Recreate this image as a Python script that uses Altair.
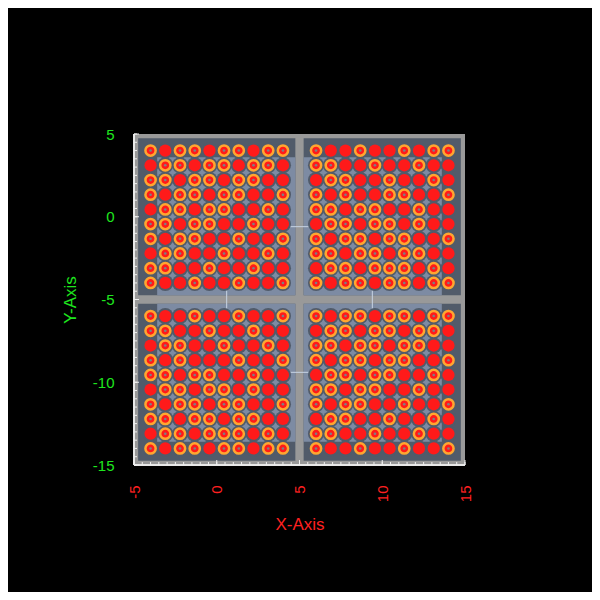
import pandas as pd
import altair as alt

# grid positions inside one panel (same for every panel, shifted by panel centre)
grid_x = [-4.0, -3.11, -2.22, -1.33, -0.44, 0.44, 1.33, 2.22, 3.11, 4.0]
grid_y = [4.0, 3.11, 2.22, 1.33, 0.44, -0.44, -1.33, -2.22, -3.11, -4.0]

# marker kind per panel, rows top to bottom: R = ringed circle, F = filled circle
kinds_tl = [
    "RFRRFRRFRR", "FRRFRRFRRF", "RRFRRFRRFF", "RFRRFRRFFR", "FRRFRRFFRF",
    "RRFRRFFRFF", "RFRRFFRFFR", "FRRFFRFFRF", "RRFFRFFRFF", "RFFRFFRFFR",
]
kinds_tr = [
    "RFFRFFRFRR", "RRFFRFFRFF", "FRRFFRFFRF", "RFRFFRRFFR", "RRFRRFFRFF",
    "FRRFRRFRFF", "RFRRFRRFFR", "RRFRRFRRFF", "FRRFRRRFRF", "RFRRFRRFRR",
]
kinds_bl = [
    "RFFRFFRFFR", "RRFFRFFRFF", "FRRFFRFFRF", "RFRFFFRFFR", "RRFRRFFRFF",
    "FRRFRRFRFF", "RFRRFRRFFR", "RRFRRFRRFF", "FRRFRRRFRF", "RFRRFRRFRR",
]
kinds_br = [
    "RFRRFRRFRR", "FRRFRRFRRF", "RRFRRFRRFF", "RFRRFRRFFR", "FRRFRRFFRF",
    "RRFRRFFRFF", "RFRRFFRFFR", "FRRFFRFFRF", "RRFFRFFRFF", "RFFRFFRFFR",
]

panel_cx = [0, 10, 0, 10]
panel_cy = [0, 0, -10, -10]
panel_kinds = [kinds_tl, kinds_tr, kinds_bl, kinds_br]

# dark panels and the lighter inner regions
panel_x1 = [-4.75, 5.25, -4.75, 5.25]
panel_x2 = [4.75, 14.75, 4.75, 14.75]
panel_y1 = [-4.75, -4.75, -14.75, -14.75]
panel_y2 = [4.75, 4.75, -5.25, -5.25]
light_x1 = [-3.6, 5.25, -3.6, 5.25]
light_x2 = [4.75, 13.6, 4.75, 13.6]
light_y1 = [-4.75, -4.75, -13.6, -13.6]
light_y2 = [3.6, 3.6, -5.25, -5.25]

# faint guide lines showing through the gaps
vline_x = [0.6, 9.4]
hline_y = [-0.6, -9.4]
guide_lo = -13.6
guide_hi_y = 3.6
guide_hi_x = 13.6

x_ticks = [-5, 0, 5, 10, 15]
y_ticks = [5, 0, -5, -10, -15]
minor_steps = [i * 0.5 for i in range(41)]

rows = []
for cx, cy, kinds in zip(panel_cx, panel_cy, panel_kinds):
    for r, line in enumerate(kinds):
        for c, k in enumerate(line):
            rows.append({"x": cx + grid_x[c], "y": cy + grid_y[r], "kind": k})
pts = pd.DataFrame(rows)

panels = pd.DataFrame({"x1": panel_x1, "x2": panel_x2, "y1": panel_y1, "y2": panel_y2})
lights = pd.DataFrame({"x1": light_x1, "x2": light_x2, "y1": light_y1, "y2": light_y2})

xs = alt.Scale(domain=[-5, 15], nice=False, zero=False)
ys = alt.Scale(domain=[-15, 5], nice=False, zero=False)

GREEN = "#1ee61e"
RED = "#ff2020"
DARK = "#515b6a"
LIGHT = "#7d8ba3"
FONT = "Liberation Sans"

base = alt.Chart(pts)

panel_layer = alt.Chart(panels).mark_rect(color=DARK).encode(
    x=alt.X("x1:Q", scale=xs,
            axis=alt.Axis(values=x_ticks, title="X-Axis", labelAngle=270,
                          labelExpr="'' + datum.value",
                          labelColor=RED, titleColor=RED, labelFontSize=15,
                          titleFontSize=17, labelPadding=20, titlePadding=15,
                          ticks=False, domain=False, grid=False,
                          labelFont=FONT, titleFont=FONT,
                          titleFontWeight="normal")),
    x2="x2:Q",
    y=alt.Y("y1:Q", scale=ys,
            axis=alt.Axis(values=y_ticks, title="Y-Axis", labelColor=GREEN,
                          labelExpr="'' + datum.value",
                          titleColor=GREEN, labelFontSize=15, titleFontSize=17,
                          labelPadding=20, titlePadding=13, ticks=False,
                          domain=False, grid=False, labelFont=FONT,
                          titleFont=FONT, titleFontWeight="normal")),
    y2="y2:Q",
)

light_layer = alt.Chart(lights).mark_rect(color=LIGHT).encode(
    x=alt.X("x1:Q", scale=xs), x2="x2:Q",
    y=alt.Y("y1:Q", scale=ys), y2="y2:Q",
)

vlines = alt.Chart(pd.DataFrame({"v": vline_x, "a": guide_lo, "b": guide_hi_y})).mark_rule(
    color="#c8d4e4", strokeWidth=1
).encode(x=alt.X("v:Q", scale=xs), y=alt.Y("a:Q", scale=ys), y2="b:Q")
hlines = alt.Chart(pd.DataFrame({"v": hline_y, "a": -3.6, "b": guide_hi_x})).mark_rule(
    color="#c8d4e4", strokeWidth=1
).encode(y=alt.Y("v:Q", scale=ys), x=alt.X("a:Q", scale=xs), x2="b:Q")

halo = base.mark_circle(size=260, color=DARK, opacity=1).encode(
    x=alt.X("x:Q", scale=xs), y=alt.Y("y:Q", scale=ys)
)
filled = base.transform_filter("datum.kind == 'F'").mark_circle(
    size=150, color="#ff1a1a", opacity=1
).encode(x=alt.X("x:Q", scale=xs), y=alt.Y("y:Q", scale=ys))
ring = base.transform_filter("datum.kind == 'R'").mark_point(
    shape="circle", size=105, filled=True, fill="#ff1a1a", stroke="#ffa630",
    strokeWidth=2.5, opacity=1
).encode(x=alt.X("x:Q", scale=xs), y=alt.Y("y:Q", scale=ys))
dot = base.transform_filter("datum.kind == 'R'").mark_circle(
    size=7, color="#808080", opacity=1
).encode(x=alt.X("x:Q", scale=xs), y=alt.Y("y:Q", scale=ys))

# axis lines and inward ticks
minor_x = pd.DataFrame({"v": [-5 + s for s in minor_steps]})
minor_y = pd.DataFrame({"v": [-15 + s for s in minor_steps]})
major_x = pd.DataFrame({"v": x_ticks})
major_y = pd.DataFrame({"v": y_ticks})

x_axis_line = alt.Chart(major_x).mark_rule(color="#e8e8e8", strokeWidth=1.5).encode(
    x=alt.value(0), x2=alt.value(331), y=alt.value(331)
)
y_axis_line = alt.Chart(major_y).mark_rule(color="#e8e8e8", strokeWidth=1.5).encode(
    y=alt.value(0), y2=alt.value(331), x=alt.value(0)
)
x_minor = alt.Chart(minor_x).mark_rule(color="#f0f0f0").encode(
    x=alt.X("v:Q", scale=xs), y=alt.value(331), y2=alt.value(328)
)
y_minor = alt.Chart(minor_y).mark_rule(color="#f0f0f0").encode(
    y=alt.Y("v:Q", scale=ys), x=alt.value(0), x2=alt.value(3)
)
x_major = alt.Chart(major_x).mark_rule(color="#f0f0f0").encode(
    x=alt.X("v:Q", scale=xs), y=alt.value(331), y2=alt.value(326)
)
y_major = alt.Chart(major_y).mark_rule(color="#f0f0f0").encode(
    y=alt.Y("v:Q", scale=ys), x=alt.value(0), x2=alt.value(5)
)

chart = (
    alt.layer(panel_layer, light_layer, vlines, hlines, halo, filled, ring, dot,
              x_axis_line, y_axis_line, x_minor, y_minor, x_major, y_major)
    .properties(
        width=331, height=331,
        autosize=alt.AutoSizeParams(type="none"),
        padding={"left": 126, "top": 126, "right": 127, "bottom": 127},
        background="black",
        usermeta={"embedOptions": {"defaultStyle": "body { background: #000; }"}},
    )
    .configure_view(fill="#999999", stroke=None, strokeWidth=0)
)

chart.save("out.html", embed_options={"renderer": "svg", "actions": False})
